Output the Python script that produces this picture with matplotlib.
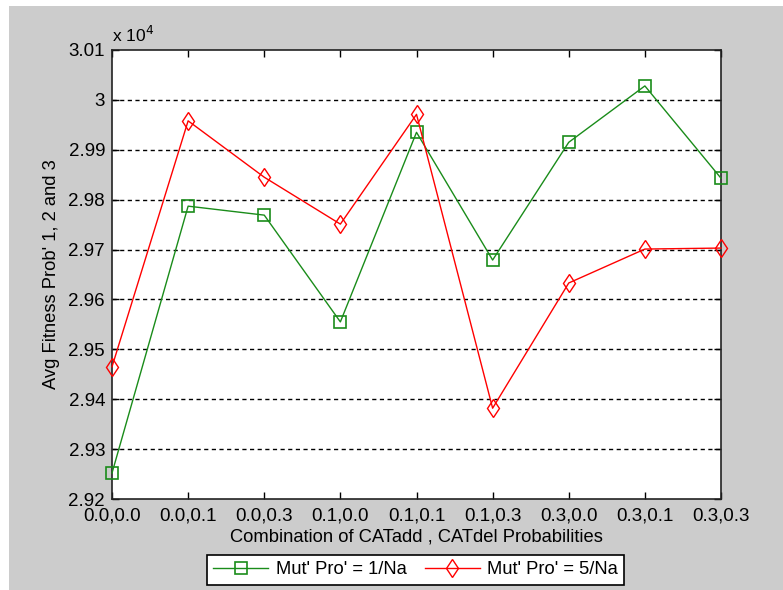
import matplotlib
matplotlib.use("Agg")
import matplotlib.pyplot as plt
from matplotlib.patches import Rectangle
from matplotlib.ticker import FuncFormatter

plt.rcParams['font.family'] = ['Liberation Sans', 'DejaVu Sans']

categories = ["0.0,0.0", "0.0,0.1", "0.0,0.3", "0.1,0.0", "0.1,0.1",
              "0.1,0.3", "0.3,0.0", "0.3,0.1", "0.3,0.3"]
fitness_mut1 = [29252, 29787, 29769, 29555, 29935, 29679, 29915, 30028, 29843]
fitness_mut5 = [29465, 29958, 29845, 29751, 29971, 29382, 29633, 29701, 29703]
series_labels = ["Mut' Pro' = 1/Na", "Mut' Pro' = 5/Na"]
y_ticks = [29200, 29300, 29400, 29500, 29600, 29700, 29800, 29900, 30000, 30100]

fig = plt.figure(figsize=(7.83, 5.90), dpi=100, facecolor='white')
fig.patches.append(Rectangle((9 / 783, 0), 1 - 9 / 783, (590 - 6) / 590,
                             transform=fig.transFigure, facecolor='#cccccc',
                             edgecolor='none', zorder=-10))

ax = fig.add_axes([112 / 783, 91 / 590, 609 / 783, 449 / 590])
ax.set_facecolor('white')

x = list(range(len(categories)))
l1, = ax.plot(x, fitness_mut1, color='#1a8c1a', linewidth=1.0, marker='s',
              markersize=8.5, markerfacecolor='none', markeredgecolor='#1a8c1a',
              markeredgewidth=1.2, label=series_labels[0], clip_on=False, zorder=3)
l2, = ax.plot(x, fitness_mut5, color='#ff0000', linewidth=1.0, marker='d',
              markersize=9.5, markerfacecolor='none', markeredgecolor='#ff0000',
              markeredgewidth=1.0, label=series_labels[1], clip_on=False, zorder=3)

ax.set_xlim(0, len(categories) - 1)
ax.set_ylim(y_ticks[0], y_ticks[-1])
ax.set_xticks(x)
ax.set_xticklabels(categories)
ax.set_yticks(y_ticks)
ax.yaxis.set_major_formatter(FuncFormatter(lambda v, p: "%g" % round(v / 1e4, 4)))

for yv in y_ticks[1:-1]:
    ax.axhline(yv, color='black', linewidth=1.0, linestyle=(0, (3, 2.5)), zorder=1)

ax.tick_params(direction='in', length=5, width=1, top=True, right=True,
               labelsize=13.5, colors='black')
ax.tick_params(axis='y', pad=5)
ax.tick_params(axis='x', pad=6)
for s in ax.spines.values():
    s.set_linewidth(1.2)
    s.set_color('#222222')

ax.set_xlabel("Combination of CATadd , CATdel Probabilities", fontsize=13.2, labelpad=3)
ax.set_ylabel("Avg Fitness Prob' 1, 2 and 3", fontsize=13.2, labelpad=6)
fig.text(112 / 783, (590 - 35) / 590, r"x 10$^{4}$", fontsize=12.5,
         ha='left', va='center')

leg = fig.legend(handles=[l1, l2], labels=series_labels, loc='center',
                 bbox_to_anchor=(415.5 / 783, (590 - 570) / 590), ncol=2,
                 fontsize=13.2, frameon=True, fancybox=False, edgecolor='black',
                 framealpha=1.0, handlelength=3.0, columnspacing=1.0,
                 borderpad=0.35, handletextpad=0.4)
leg.get_frame().set_linewidth(1.2)

fig.savefig("out.png", dpi=100, facecolor=fig.get_facecolor())
